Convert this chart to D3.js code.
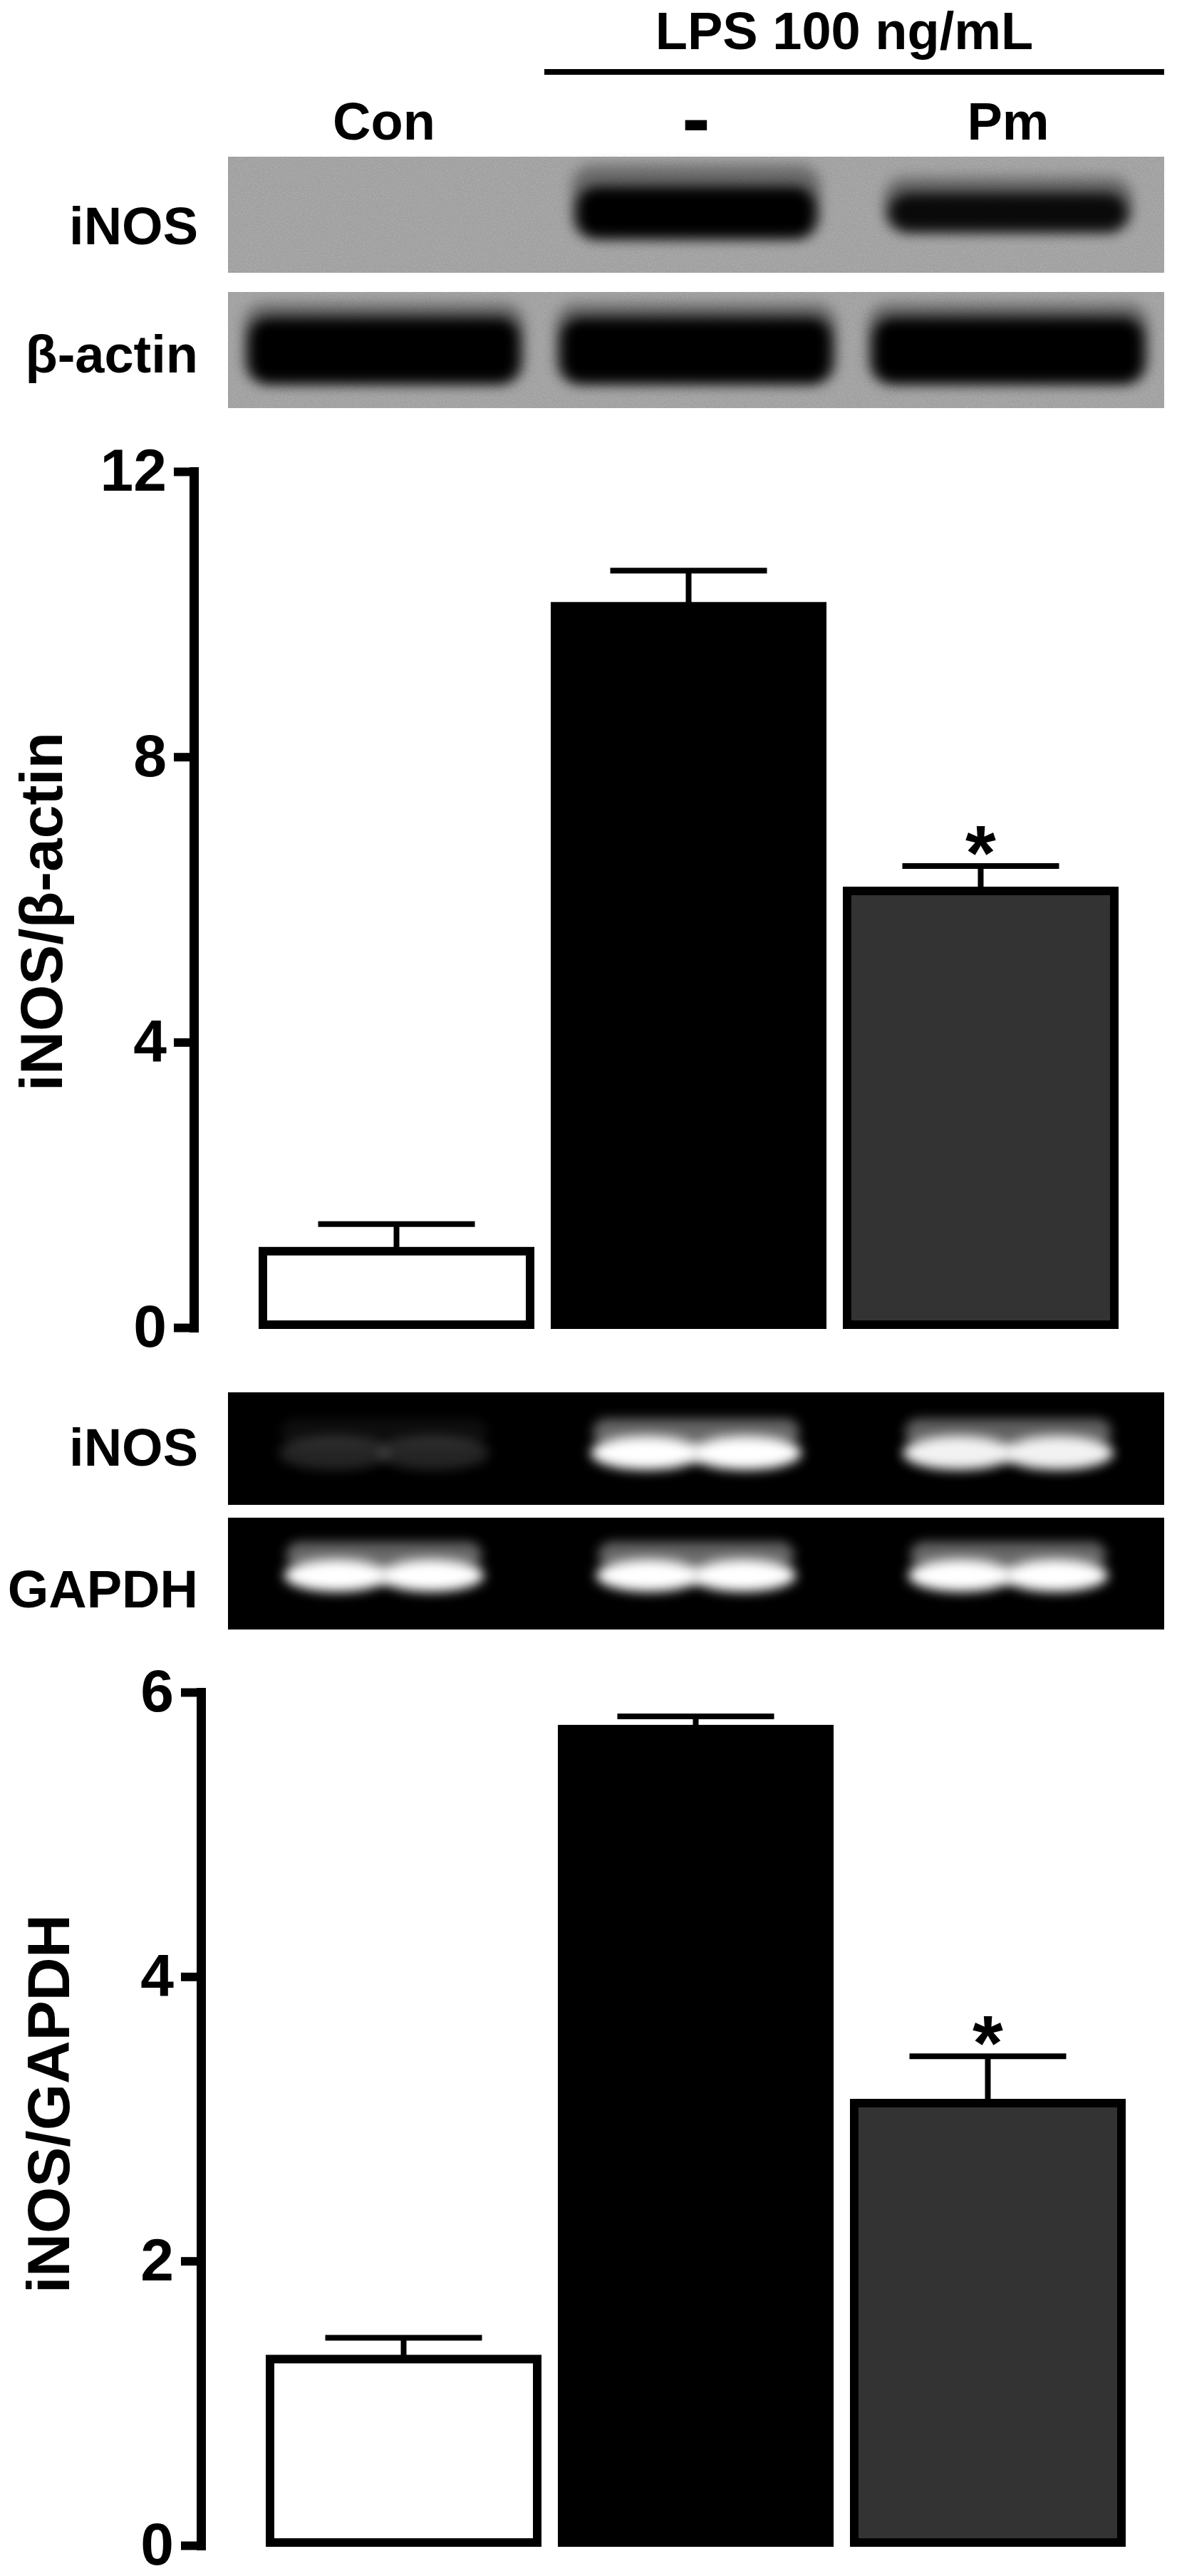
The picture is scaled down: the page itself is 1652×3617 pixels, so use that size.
<!DOCTYPE html>
<html>
<head>
<meta charset="utf-8">
<script src="https://cdn.jsdelivr.net/npm/d3@7"></script>
<style>
  body { margin: 0; background: #fff; }
  text { font-family: "Liberation Sans", Arial, sans-serif; font-weight: bold; }
</style>
</head>
<body>
<div id="chart"></div>
<script>
const WIDTH = 1652;
const HEIGHT = 3617;

// groups (lanes / bars)
const groups = ["Con", "-", "Pm"];
const treatmentLabel = "LPS 100 ng/mL";

// densitometry, iNOS / beta-actin (western blot)
const actinRatio = [1.07, 10.11, 6.12];
const actinSem = [0.38, 0.50, 0.35];
const actinTicks = [0, 4, 8, 12];

// RT-PCR, iNOS / GAPDH
const gapdhRatio = [1.31, 5.74, 3.11];
const gapdhSem = [0.15, 0.09, 0.33];
const gapdhTicks = [0, 2, 4, 6];

const significant = [false, false, true];
const barFills = ["#ffffff", "#000000", "#333333"];

// relative band intensity per lane
const wbInos = [0, 1, 0.75];
const wbActin = [1, 1, 1];
const pcrInos = [0.14, 1, 0.95];
const pcrGapdh = [1, 1, 1];

const svg = d3.select("#chart").append("svg")
  .attr("width", WIDTH)
  .attr("height", HEIGHT);

svg.append("rect").attr("width", WIDTH).attr("height", HEIGHT).attr("fill", "#fff");

const defs = svg.append("defs");
defs.append("filter").attr("id", "blurWb")
  .attr("x", "-30%").attr("y", "-60%").attr("width", "160%").attr("height", "220%")
  .append("feGaussianBlur").attr("stdDeviation", 9);
defs.append("filter").attr("id", "blurPcr")
  .attr("x", "-30%").attr("y", "-60%").attr("width", "160%").attr("height", "220%")
  .append("feGaussianBlur").attr("stdDeviation", 8);

// film grain for the western blot panels
const grain = defs.append("filter").attr("id", "grain");
grain.append("feTurbulence").attr("type", "fractalNoise")
  .attr("baseFrequency", 0.6).attr("numOctaves", 2).attr("seed", 3);
grain.append("feColorMatrix").attr("type", "matrix")
  .attr("values", "0 0 0 0 1  0 0 0 0 1  0 0 0 0 1  0 0 0 1.4 -0.6");

// lanes share one band scale across the gel width
const lane = d3.scaleBand().domain(groups).range([320, 1634]);
const laneMid = d => lane(d) + lane.bandwidth() / 2;

// header: treatment bracket and lane labels
svg.append("text")
  .attr("x", 1185).attr("y", 69)
  .attr("text-anchor", "middle")
  .style("font-size", "74px")
  .text(treatmentLabel);

svg.append("line")
  .attr("x1", 764).attr("x2", 1634)
  .attr("y1", 101).attr("y2", 101)
  .attr("stroke", "#000").attr("stroke-width", 8);

svg.selectAll(".laneLabel")
  .data(groups)
  .enter()
  .append("text")
  .attr("class", "laneLabel")
  .attr("x", d => laneMid(d))
  .attr("y", d => d === "-" ? 207 : 196)
  .attr("text-anchor", "middle")
  .style("font-size", d => d === "-" ? "120px" : "74px")
  .text(d => d);

function drawBlot(root, o) {
  const g = root.append("g");
  g.append("rect")
    .attr("x", 320).attr("y", o.y0)
    .attr("width", 1634 - 320).attr("height", o.y1 - o.y0)
    .attr("fill", o.bg);

  if (o.kind === "wb") {
    g.append("rect")
      .attr("x", 320).attr("y", o.y0)
      .attr("width", 1634 - 320).attr("height", o.y1 - o.y0)
      .attr("filter", "url(#grain)")
      .attr("opacity", 0.3);

    // faint haze above the band, then the dense core
    g.selectAll(".haze")
      .data(o.values)
      .enter()
      .append("rect")
      .attr("x", (d, i) => laneMid(groups[i]) - o.bandW / 2)
      .attr("y", (d, i) => o.cy - o.bandH * d / 2 - o.haze * d)
      .attr("width", o.bandW)
      .attr("height", d => o.bandH * d + o.haze * d)
      .attr("rx", 30)
      .attr("fill", o.ink)
      .attr("opacity", d => d > 0 ? 0.35 : 0)
      .attr("filter", "url(#blurWb)");

    g.selectAll(".core")
      .data(o.values)
      .enter()
      .append("rect")
      .attr("x", (d, i) => laneMid(groups[i]) - o.bandW / 2 + 8)
      .attr("y", d => o.cy - o.bandH * d / 2)
      .attr("width", o.bandW - 16)
      .attr("height", d => o.bandH * d)
      .attr("rx", 28)
      .attr("fill", o.ink)
      .attr("opacity", d => d > 0 ? 0.6 + 0.4 * d : 0)
      .attr("filter", "url(#blurWb)");
  } else {
    // ethidium bands: a dim smear on top and two bright lobes below
    const lobes = [];
    o.values.forEach((d, i) => {
      [-1, 1].forEach(s => lobes.push({ v: d, i: i, s: s }));
    });

    g.selectAll(".smear")
      .data(o.values)
      .enter()
      .append("rect")
      .attr("x", (d, i) => laneMid(groups[i]) - o.bandW / 2)
      .attr("y", o.cy - o.bandH / 2 - 24)
      .attr("width", o.bandW)
      .attr("height", o.bandH * 0.8)
      .attr("rx", 20)
      .attr("fill", o.ink)
      .attr("opacity", d => 0.4 * d)
      .attr("filter", "url(#blurPcr)");

    g.selectAll(".lobe")
      .data(lobes)
      .enter()
      .append("ellipse")
      .attr("cx", d => laneMid(groups[d.i]) + d.s * o.bandW * 0.24)
      .attr("cy", o.cy)
      .attr("rx", o.bandW * 0.27)
      .attr("ry", o.bandH / 2)
      .attr("fill", o.ink)
      .attr("opacity", d => d.v)
      .attr("filter", "url(#blurPcr)");
  }

  root.append("text")
    .attr("x", 278).attr("y", o.labelY)
    .attr("text-anchor", "end")
    .style("font-size", "74px")
    .text(o.label);
}

function drawChart(root, o) {
  const y = d3.scaleLinear()
    .domain([0, o.max])
    .range([o.yBottom, o.yTop]);

  const x = d3.scaleBand()
    .domain(groups)
    .range([o.axisX + 91, o.axisX + 91 + 1207])
    .paddingInner(0.056)
    .paddingOuter(0);

  const rows = groups.map((gname, i) => ({
    group: gname, value: o.values[i], sem: o.sem[i], fill: barFills[i], sig: significant[i]
  }));

  const axis = root.append("g")
    .attr("transform", `translate(${o.axisX},0)`)
    .call(d3.axisLeft(y).tickValues(o.ticks).tickFormat(d3.format("d"))
      .tickSize(28).tickPadding(10).tickSizeOuter(0));
  axis.attr("font-family", null).attr("font-size", null);
  axis.select(".domain")
    .attr("stroke-width", 13)
    .attr("stroke-linecap", "square");
  axis.selectAll(".tick line").attr("stroke-width", 12);
  axis.selectAll(".tick text")
    .style("font-size", "84px")
    .attr("fill", "#000");

  // y axis label
  root.append("text")
    .attr("transform", `translate(${o.labelX},${o.labelY}) rotate(-90)`)
    .attr("text-anchor", "middle")
    .style("font-size", "84px")
    .text(o.label);

  const bw = x.bandwidth();
  const mid = d => x(d.group) + bw / 2;

  // error bars (upper half only)
  root.selectAll(".errV" + o.id)
    .data(rows)
    .enter()
    .append("line")
    .attr("x1", mid)
    .attr("x2", mid)
    .attr("y1", d => y(d.value))
    .attr("y2", d => y(d.value + d.sem))
    .attr("stroke", "#000")
    .attr("stroke-width", 8);

  root.selectAll(".errCap" + o.id)
    .data(rows)
    .enter()
    .append("line")
    .attr("x1", d => mid(d) - 110)
    .attr("x2", d => mid(d) + 110)
    .attr("y1", d => y(d.value + d.sem))
    .attr("y2", d => y(d.value + d.sem))
    .attr("stroke", "#000")
    .attr("stroke-width", 8);

  // bars
  root.selectAll(".bar" + o.id)
    .data(rows)
    .enter()
    .append("rect")
    .attr("x", d => x(d.group) + 6)
    .attr("y", d => y(d.value))
    .attr("width", bw - 12)
    .attr("height", d => y(0) - y(d.value) - 4)
    .attr("fill", d => d.fill)
    .attr("stroke", "#000")
    .attr("stroke-width", 12);

  // significance marks
  root.selectAll(".star" + o.id)
    .data(rows.filter(d => d.sig))
    .enter()
    .append("text")
    .attr("x", mid)
    .attr("y", d => y(d.value + d.sem) + 19)
    .attr("text-anchor", "middle")
    .style("font-size", "110px")
    .text("*");
}

drawBlot(svg, { kind: "wb", y0: 220, y1: 383, bg: "#a0a0a0", ink: "#000",
  values: wbInos, cy: 298, bandW: 350, bandH: 72, haze: 30, label: "iNOS", labelY: 343 });
drawBlot(svg, { kind: "wb", y0: 410, y1: 573, bg: "#a0a0a0", ink: "#000",
  values: wbActin, cy: 492, bandW: 395, bandH: 92, haze: 20, label: "β-actin", labelY: 523 });

drawChart(svg, { id: "a", axisX: 272, yTop: 662, yBottom: 1864, max: 12, ticks: actinTicks,
  values: actinRatio, sem: actinSem, label: "iNOS/β-actin", labelX: 87, labelY: 1280 });

drawBlot(svg, { kind: "pcr", y0: 1955, y1: 2113, bg: "#000", ink: "#fff",
  values: pcrInos, cy: 2040, bandW: 290, bandH: 48, label: "iNOS", labelY: 2058 });
drawBlot(svg, { kind: "pcr", y0: 2131, y1: 2288, bg: "#000", ink: "#fff",
  values: pcrGapdh, cy: 2212, bandW: 275, bandH: 46, label: "GAPDH", labelY: 2257 });

drawChart(svg, { id: "b", axisX: 282, yTop: 2376, yBottom: 3574, max: 6, ticks: gapdhTicks,
  values: gapdhRatio, sem: gapdhSem, label: "iNOS/GAPDH", labelX: 97, labelY: 2954 });
</script>
</body>
</html>
